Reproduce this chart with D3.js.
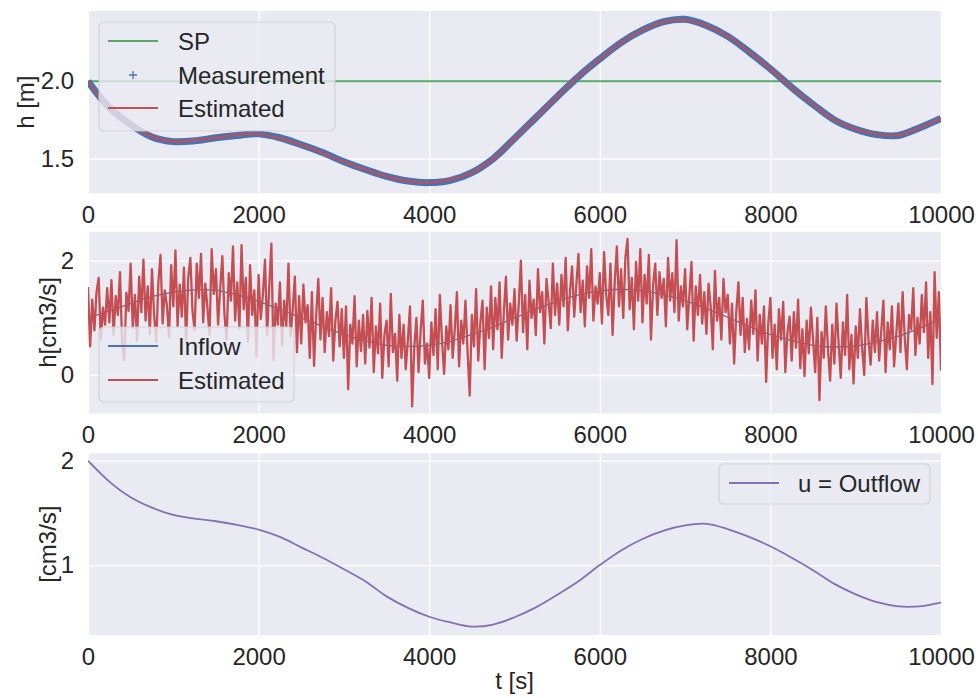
<!DOCTYPE html>
<html>
<head>
<meta charset="utf-8">
<script src="https://cdn.jsdelivr.net/npm/d3@7"></script>
<style>
  body { margin: 0; background: #fff; }
  svg { display: block; font-family: Arial, "Liberation Sans", sans-serif; }
</style>
</head>
<body>
<svg id="chart" width="978" height="698"></svg>
<script>
// time stamps: smooth series sampled every 250 s, noisy estimate every 25 s
const tCoarse = d3.range(0, 10001, 250);
const tFine = d3.range(0, 10001, 25);
const xTicks = [0, 2000, 4000, 6000, 8000, 10000];

const setPoint = 2.0;
const hMeasured = [2.00, 1.83, 1.72, 1.64, 1.61, 1.615, 1.635, 1.65, 1.66, 1.635,
  1.59, 1.54, 1.48, 1.43, 1.385, 1.355, 1.345, 1.36, 1.41, 1.50,
  1.63, 1.765, 1.90, 2.03, 2.145, 2.25, 2.33, 2.385, 2.40, 2.36,
  2.29, 2.19, 2.08, 1.96, 1.85, 1.75, 1.69, 1.655, 1.65, 1.70, 1.76];
const hEstimated = [2.00, 1.82, 1.72, 1.645, 1.61, 1.62, 1.635, 1.655, 1.66, 1.63,
  1.59, 1.535, 1.48, 1.43, 1.385, 1.355, 1.345, 1.365, 1.41, 1.50,
  1.63, 1.765, 1.90, 2.03, 2.145, 2.25, 2.33, 2.385, 2.395, 2.36,
  2.29, 2.19, 2.08, 1.96, 1.85, 1.75, 1.69, 1.66, 1.65, 1.70, 1.76];

const inflow = [1.00, 1.12, 1.25, 1.37, 1.45, 1.49, 1.48, 1.40, 1.29, 1.15,
  1.00, 0.85, 0.71, 0.60, 0.52, 0.50, 0.52, 0.59, 0.71, 0.84,
  1.00, 1.15, 1.29, 1.40, 1.47, 1.50, 1.47, 1.40, 1.30, 1.16,
  1.01, 0.85, 0.71, 0.60, 0.52, 0.49, 0.51, 0.58, 0.68, 0.82, 0.99];
const inflowEstimated = [
  1.54, 0.50, 1.32, 0.78, 1.45, 1.70, 0.62, 1.18, 0.88, 1.52,
  0.92, 1.66, 0.70, 1.38, 1.05, 1.80, 0.55, 0.26, 1.44, 1.12,
  1.95, 0.82, 1.40, 0.60, 1.72, 1.10, 2.02, 0.95, 1.55, 0.72,
  1.85, 1.05, 0.58, 1.62, 2.10, 0.90, 1.48, 1.22, 0.66, 1.92,
  1.20, 2.18, 0.85, 1.58, 1.02, 1.88, 0.55, 1.70, 2.05, 1.12,
  0.78, 1.95, 1.35, 2.12, 0.92, 1.60, 1.18, 0.70, 2.20, 1.42,
  1.85, 0.88, 1.52, 2.08, 1.05, 0.62, 1.78, 1.30, 2.25, 0.95,
  1.62, 0.82, 2.27, 1.15, 1.70, 0.58, 1.92, 1.05, 1.48, 0.32,
  1.75, 0.98, 1.40, 2.02, 0.70, 1.55, 2.30, 0.26, 1.25, 0.88,
  1.62, 0.52, 1.30, 0.85, 1.95, 0.68, 1.15, 1.72, 0.40, 1.38,
  0.55, 1.58, 0.92, 1.22, 0.30, 1.45, 0.16, 1.05, 1.68, 0.62,
  1.35, 0.40, 1.10, 0.68, 1.52, 0.25, 0.95, 1.28, 0.50, 1.15,
  0.30, 1.20, -0.25, 0.88, 0.55, 1.38, 0.15, 0.95, 0.42, 1.05,
  0.20, 1.12, 0.48, 1.35, 0.05, 0.85, 0.38, 1.25, -0.05, 0.70,
  0.95, 0.15, 1.42, 0.40, 0.72, -0.10, 1.05, 0.30, 0.88, 0.10,
  0.62, 1.20, -0.55, 0.48, 1.00, 0.05, 0.78, 1.30, 0.20, 0.55,
  -0.05, 0.92, 0.35, 1.15, 0.10, 1.40, 0.60, 0.02, 0.85, 0.45,
  1.22, 0.30, 0.80, 1.45, 0.15, 0.95, 0.55, 1.30, 0.40, -0.36,
  1.05, 0.50, 1.50, 0.25, 0.92, 1.30, 0.10, 1.18, 0.65, 1.55,
  0.45, 1.35, 0.80, 1.62, 0.30, 1.10, 1.72, 0.62, 1.25, 0.88,
  1.50, 0.60, 1.25, 2.00, 0.75, 1.40, 0.45, 1.65, 1.00, 1.32,
  0.70, 1.85, 1.10, 1.45, 0.55, 1.68, 1.28, 0.82, 1.95, 1.05,
  1.60, 0.88, 1.75, 1.20, 2.05, 0.78, 1.45, 1.90, 1.02, 1.58,
  2.12, 1.10, 1.65, 0.85, 1.90, 1.35, 2.20, 0.95, 1.55, 1.25,
  1.78, 0.90, 2.15, 1.40, 1.05, 1.95, 0.70, 1.62, 2.25, 1.20,
  1.85, 1.00, 2.05, 2.38, 1.15, 1.70, 0.80, 1.98, 1.30, 2.20,
  0.92, 1.75, 1.25, 2.10, 0.62, 1.58, 1.95, 1.05, 1.80, 1.35,
  1.68, 0.85, 2.05, 1.30, 1.78, 1.10, 2.36, 0.95, 1.55, 1.20,
  1.85, 0.80, 1.40, 1.98, 0.60, 1.55, 1.05, 1.75, 0.90, 1.45,
  0.72, 1.60, 1.20, 0.45, 1.82, 0.95, 1.35, 0.62, 1.68, 1.10,
  1.40, 0.55, 1.25, 0.20, 1.10, 1.62, 0.70, 1.35, 0.40, 0.98,
  0.45, 1.30, 0.72, 1.48, 0.25, 1.05, 0.55, 1.20, -0.12, 0.90,
  1.35, 0.30, 0.88, 0.10, 1.15, 0.62, 1.28, 0.05, 0.75, 1.02,
  0.25, 1.10, 0.48, 1.32, 0.12, 0.80, -0.02, 0.95, 0.38, 1.18,
  0.62, 0.05, 1.00, -0.44, 0.75, 0.30, 1.20, 0.45, -0.10, 0.88,
  0.20, 1.25, 0.55, -0.05, 0.92, 0.35, 1.40, 0.10, 0.70, -0.15,
  0.85, 0.30, 1.15, 0.48, 0.00, 1.35, 0.62, 0.18, 0.95, 0.40,
  1.10, 0.25, 0.78, 1.30, 0.05, 0.92, 0.45, 1.20, 0.15, 0.70,
  1.25, 0.40, 1.45, 0.65, 0.10, 1.05, 0.80, 1.52, 0.35, 1.00,
  0.55, 1.40, 0.75, 1.62, 0.30, 1.10, -0.16, 1.80, 0.65, 1.45,
  0.08];

const outflow = [2.00, 1.80, 1.65, 1.55, 1.48, 1.445, 1.42, 1.385, 1.34, 1.27,
  1.17, 1.07, 0.96, 0.845, 0.70, 0.59, 0.505, 0.45, 0.41, 0.43,
  0.50, 0.595, 0.715, 0.845, 1.00, 1.14, 1.25, 1.33, 1.38, 1.395,
  1.345, 1.27, 1.18, 1.07, 0.95, 0.82, 0.72, 0.645, 0.605, 0.605, 0.64];

const C = { blue: '#4C72B0', green: '#55A868', red: '#C44E52', purple: '#8172B2',
            bg: '#EAEAF2', text: '#262626' };
const FONT = 24;
const smooth = d3.curveCatmullRom.alpha(0.5);

const svg = d3.select('#chart');
const x = d3.scaleLinear().domain([0, 10000]).range([88, 941]);

function makePanel(id, top, bottom, yDomain, yTicks, fmt, label, labelX) {
  const y = d3.scaleLinear().domain(yDomain).range([bottom, top]);
  const g = svg.append('g');
  g.append('rect').attr('x', x.range()[0]).attr('y', top)
    .attr('width', x.range()[1] - x.range()[0]).attr('height', bottom - top)
    .attr('fill', C.bg);

  g.append('clipPath').attr('id', 'clip-' + id).append('rect')
    .attr('x', x.range()[0]).attr('y', top)
    .attr('width', x.range()[1] - x.range()[0]).attr('height', bottom - top);

  // grid
  g.append('g').attr('transform', `translate(0,${bottom})`)
    .call(d3.axisBottom(x).tickValues(xTicks).tickSize(-(bottom - top)).tickFormat(''))
    .call(a => a.select('.domain').remove())
    .call(a => a.selectAll('line').attr('stroke', '#fff').attr('stroke-width', 1.3));
  g.append('g').attr('transform', `translate(${x.range()[0]},0)`)
    .call(d3.axisLeft(y).tickValues(yTicks).tickSize(-(x.range()[1] - x.range()[0])).tickFormat(''))
    .call(a => a.select('.domain').remove())
    .call(a => a.selectAll('line').attr('stroke', '#fff').attr('stroke-width', 1.3));

  // tick labels
  g.append('g').attr('transform', `translate(0,${bottom})`)
    .call(d3.axisBottom(x).tickValues(xTicks).tickSize(0).tickPadding(13).tickFormat(d3.format('d')))
    .call(a => a.select('.domain').remove())
    .call(a => a.selectAll('text').attr('font-size', FONT).attr('fill', C.text)
      .attr('font-family', 'Arial, "Liberation Sans", sans-serif'));
  g.append('g').attr('transform', `translate(${x.range()[0]},0)`)
    .call(d3.axisLeft(y).tickValues(yTicks).tickSize(0).tickPadding(14).tickFormat(fmt))
    .call(a => a.select('.domain').remove())
    .call(a => a.selectAll('text').attr('font-size', FONT).attr('fill', C.text)
      .attr('font-family', 'Arial, "Liberation Sans", sans-serif'));

  svg.append('text')
    .attr('transform', `translate(${labelX},${(top + bottom) / 2}) rotate(-90)`)
    .attr('text-anchor', 'middle').attr('dominant-baseline', 'central')
    .attr('font-size', FONT).attr('fill', C.text).text(label);

  const layer = svg.append('g').attr('clip-path', `url(#clip-${id})`);
  return { y, layer };
}

function drawLine(p, ts, vals, color, width, curve) {
  p.layer.append('path')
    .datum(vals.map((v, i) => [ts[i], v]))
    .attr('fill', 'none').attr('stroke', color).attr('stroke-width', width)
    .attr('stroke-linejoin', 'round')
    .attr('d', d3.line().x(d => x(d[0])).y(d => p.y(d[1])).curve(curve || d3.curveLinear));
}

function legend(bx, by, bw, bh, handleX, textX, rows) {
  const g = svg.append('g');
  g.append('rect').attr('x', bx).attr('y', by).attr('width', bw).attr('height', bh)
    .attr('rx', 5).attr('fill', C.bg).attr('fill-opacity', 0.8)
    .attr('stroke', '#cccccc').attr('stroke-opacity', 0.8).attr('stroke-width', 1.2);
  rows.forEach(r => {
    if (r.kind === 'plus') {
      const cx = handleX + 25;
      g.append('path')
        .attr('d', `M${cx},${r.y - 4}V${r.y + 4}M${cx - 4},${r.y}H${cx + 4}`)
        .attr('stroke', r.color).attr('stroke-width', 1.3).attr('fill', 'none');
    } else {
      g.append('line').attr('x1', handleX).attr('x2', handleX + 50)
        .attr('y1', r.y).attr('y2', r.y)
        .attr('stroke', r.color).attr('stroke-width', 2);
    }
    g.append('text').attr('x', textX).attr('y', r.y + 8.5)
      .attr('font-size', FONT).attr('fill', C.text).text(r.label);
  });
}

// --- top: level ---
const p1 = makePanel('h', 11, 193.3, [1.276, 2.454], [1.5, 2.0], d3.format('.1f'), 'h [m]', 25);
p1.layer.append('line').attr('x1', x(0)).attr('x2', x(10000))
  .attr('y1', p1.y(setPoint)).attr('y2', p1.y(setPoint))
  .attr('stroke', C.green).attr('stroke-width', 2);
drawLine(p1, tCoarse, hMeasured, C.blue, 7, smooth);
drawLine(p1, tCoarse, hEstimated, C.red, 2, smooth);

// --- middle: inflow ---
const p2 = makePanel('q', 231.7, 413.3, [-0.67, 2.507], [0, 2], d3.format('d'), 'h[cm3/s]', 47);
drawLine(p2, tCoarse, inflow, C.blue, 1.3, smooth);
drawLine(p2, tFine, inflowEstimated, C.red, 2.3);

// --- bottom: outflow ---
const p3 = makePanel('u', 453.3, 635, [0.33, 2.071], [1, 2], d3.format('d'), '[cm3/s]', 47);
drawLine(p3, tCoarse, outflow, C.purple, 1.8, smooth);

svg.append('text').attr('x', (x.range()[0] + x.range()[1]) / 2).attr('y', 689)
  .attr('text-anchor', 'middle').attr('font-size', FONT).attr('fill', C.text).text('t [s]');

legend(99, 22, 236, 109, 108, 178, [
  { label: 'SP', color: C.green, y: 41 },
  { label: 'Measurement', color: C.blue, y: 75, kind: 'plus' },
  { label: 'Estimated', color: C.red, y: 108 }
]);
legend(99, 327, 195, 75, 108, 178, [
  { label: 'Inflow', color: C.blue, y: 346 },
  { label: 'Estimated', color: C.red, y: 380 }
]);
legend(719, 464, 211, 40, 729, 798, [
  { label: 'u = Outflow', color: C.purple, y: 483 }
]);
</script>
</body>
</html>
